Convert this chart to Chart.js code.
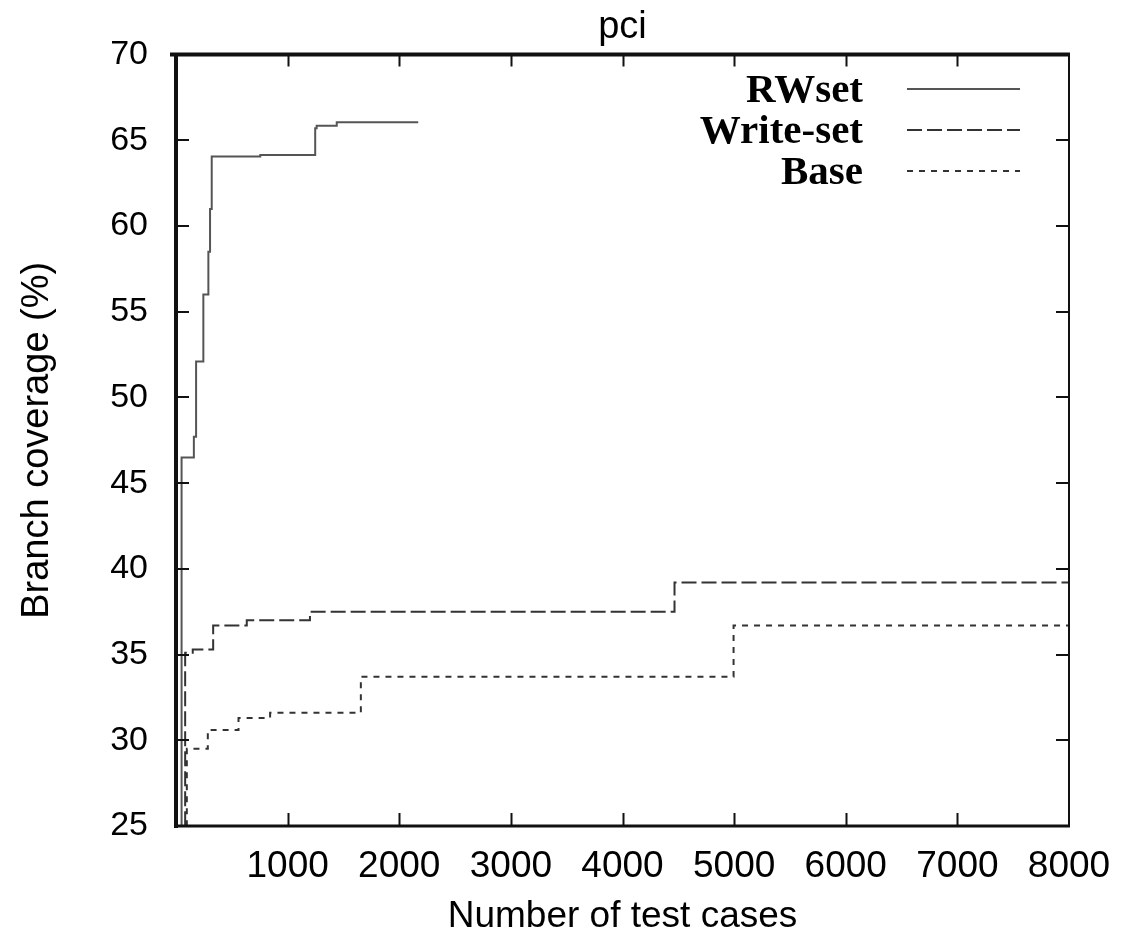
<!DOCTYPE html>
<html>
<head>
<meta charset="utf-8">
<script src="https://cdn.jsdelivr.net/npm/chart.js@4.4.1/dist/chart.umd.min.js"></script>
<style>
  html, body { margin: 0; padding: 0; background: #fff; }
  #wrap { width: 1126px; height: 947px; }
</style>
</head>
<body>
<div id="wrap"><canvas id="coverageChart"></canvas></div>
<script>
// values (x = number of test cases, y = branch coverage %)
const rwsetX = [40, 50, 160, 180, 245, 290, 305, 320, 755, 1247, 1260, 1440, 2170];
const rwsetY = [25, 46.5, 47.7, 52.1, 56.0, 58.5, 61.0, 64.05, 64.15, 65.7, 65.85, 66.05, 66.05];

const writeSetX = [80, 82, 150, 333, 634, 1200, 4466, 8000];
const writeSetY = [25, 35.1, 35.3, 36.7, 37.0, 37.5, 39.2, 39.2];

const baseX = [95, 97, 285, 560, 843, 1656, 4995, 8000];
const baseY = [25, 29.5, 30.6, 31.3, 31.6, 33.7, 36.7, 36.7];

const seriesNames = ['RWset', 'Write-set', 'Base'];
const xTickValues = [1000, 2000, 3000, 4000, 5000, 6000, 7000, 8000];
const yTickValues = [25, 30, 35, 40, 45, 50, 55, 60, 65, 70];

function toPoints(xs, ys) {
    return xs.map((x, i) => ({ x: x, y: ys[i] }));
}

const lineColors = ['#555', '#333', '#333'];
const dashes = [[], [15, 5], [6, 6]];
const sans = '"Liberation Sans", Arial, sans-serif';

// gnuplot style frame with inward ticks on all four sides
const framePlugin = {
    id: 'frame',
    afterDatasetsDraw(chart) {
        const { ctx, chartArea: a, scales: { x, y } } = chart;
        ctx.save();
        ctx.strokeStyle = '#111';
        ctx.lineWidth = 2;
        ctx.beginPath();
        x.ticks.forEach(t => {
            if (t.value <= x.min || t.value >= x.max) return;
            const px = Math.round(x.getPixelForValue(t.value)) + 0.5;
            ctx.moveTo(px, a.bottom); ctx.lineTo(px, a.bottom - 13);
            ctx.moveTo(px, a.top); ctx.lineTo(px, a.top + 12);
        });
        y.ticks.forEach(t => {
            if (t.value <= y.min || t.value >= y.max) return;
            const py = Math.round(y.getPixelForValue(t.value));
            ctx.moveTo(a.left, py); ctx.lineTo(a.left + 13, py);
            ctx.moveTo(a.right, py); ctx.lineTo(a.right - 13, py);
        });
        ctx.stroke();

        ctx.lineWidth = 2;
        ctx.beginPath();
        ctx.moveTo(a.right, a.top); ctx.lineTo(a.right, a.bottom);
        ctx.stroke();
        ctx.lineWidth = 3;
        ctx.beginPath();
        ctx.moveTo(a.left, a.bottom); ctx.lineTo(a.right + 1, a.bottom);
        ctx.stroke();
        ctx.lineWidth = 4;
        ctx.beginPath();
        ctx.moveTo(a.left - 6, a.top); ctx.lineTo(a.right + 1, a.top);
        ctx.moveTo(a.left, a.top); ctx.lineTo(a.left, a.bottom + 2);
        ctx.stroke();
        ctx.restore();
    }
};

// key in the top right corner: bold serif label, line sample to its right
const keyPlugin = {
    id: 'key',
    afterDatasetsDraw(chart) {
        const { ctx } = chart;
        ctx.save();
        ctx.font = 'bold 41px "Liberation Serif", "Times New Roman", serif';
        ctx.fillStyle = '#000';
        ctx.textAlign = 'right';
        ctx.textBaseline = 'alphabetic';
        chart.data.datasets.forEach((ds, i) => {
            const rowY = 89 + i * 41;
            ctx.fillText(ds.label, 863, rowY + 13);
            ctx.strokeStyle = ds.borderColor;
            ctx.lineWidth = 2;
            ctx.setLineDash(ds.borderDash);
            ctx.beginPath();
            ctx.moveTo(907, rowY);
            ctx.lineTo(1020, rowY);
            ctx.stroke();
        });
        ctx.restore();
    }
};

const ctx = document.getElementById('coverageChart').getContext('2d');
const chart = new Chart(ctx, {
    type: 'line',
    data: {
        datasets: [
            { label: seriesNames[0], data: toPoints(rwsetX, rwsetY) },
            { label: seriesNames[1], data: toPoints(writeSetX, writeSetY) },
            { label: seriesNames[2], data: toPoints(baseX, baseY) }
        ].map((ds, i) => Object.assign(ds, {
            borderColor: lineColors[i],
            borderWidth: 2,
            borderDash: dashes[i],
            stepped: 'before',
            pointRadius: 0,
            fill: false
        }))
    },
    options: {
        responsive: true,
        maintainAspectRatio: false,
        animation: false,
        layout: { padding: { left: 0, right: 57, top: 0, bottom: 0 } },
        plugins: {
            legend: { display: false },
            tooltip: { enabled: false },
            title: {
                display: true,
                text: 'pci',
                fullSize: false,
                color: '#000',
                font: { family: sans, size: 38, weight: 'normal', lineHeight: 1.2 },
                padding: { top: 5, bottom: 4 }
            }
        },
        scales: {
            x: {
                type: 'linear',
                min: 0,
                max: 8000,
                grid: { display: false, drawTicks: false },
                border: { display: false },
                afterBuildTicks(scale) {
                    scale.ticks = xTickValues.map(v => ({ value: v }));
                },
                ticks: {
                    color: '#000',
                    padding: 19,
                    maxRotation: 0,
                    callback: v => String(v),
                    font: { family: sans, size: 37, lineHeight: 1.2 }
                },
                title: {
                    display: true,
                    text: 'Number of test cases',
                    color: '#000',
                    font: { family: sans, size: 37, lineHeight: 1.2 },
                    padding: { top: 0, bottom: 8 }
                },
                afterFit(scale) {
                    scale.height = 121;
                    scale.paddingLeft = 0;
                    scale.paddingRight = 0;
                }
            },
            y: {
                min: 25,
                max: 70,
                grid: { display: false, drawTicks: false },
                border: { display: false },
                afterBuildTicks(scale) {
                    scale.ticks = yTickValues.map(v => ({ value: v }));
                },
                ticks: {
                    color: '#000',
                    padding: 28,
                    callback: v => String(v),
                    font: { family: sans, size: 34, lineHeight: 1.2 }
                },
                title: {
                    display: true,
                    text: 'Branch coverage (%)',
                    color: '#000',
                    font: { family: sans, size: 38, lineHeight: 1.2 },
                    padding: { top: 15, bottom: 0 }
                },
                afterFit(scale) {
                    scale.width = 176;
                    scale.paddingTop = 0;
                    scale.paddingBottom = 0;
                }
            }
        }
    },
    plugins: [framePlugin, keyPlugin]
});
</script>
</body>
</html>
